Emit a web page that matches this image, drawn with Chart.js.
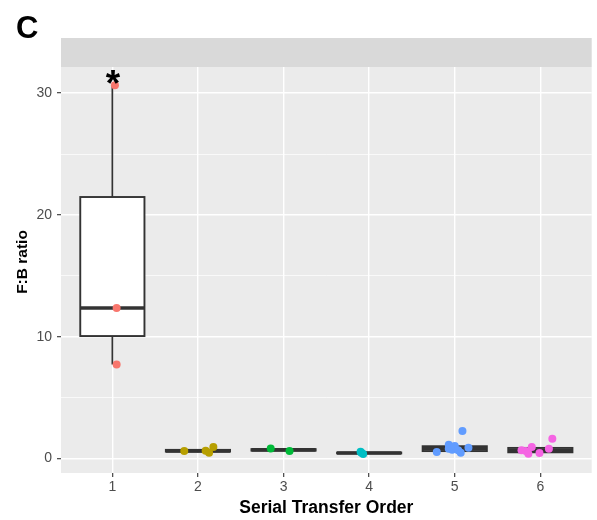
<!DOCTYPE html>
<html>
<head>
<meta charset="utf-8">
<script src="https://cdn.jsdelivr.net/npm/chart.js@4"></script>
<style>
  html, body { margin: 0; padding: 0; background: #fff; }
  #wrap { width: 597px; height: 520px; }
</style>
</head>
<body>
<div id="wrap"><canvas id="fbChart" width="597" height="520"></canvas></div>
<script>
const transferOrder = [1, 2, 3, 4, 5, 6];
const groupColors = ["#F8766D", "#B79F00", "#00BA38", "#00BFC4", "#619CFF", "#F564E3"];

// boxplot summary per transfer order
const boxLower = [7.72, 0.5, 0.62, 0.4, 0.55, 0.46];
const boxQ1 = [10.05, 0.56, 0.64, 0.41, 0.6, 0.5];
const boxMedian = [12.35, 0.62, 0.7, 0.44, 0.8, 0.66];
const boxQ3 = [21.47, 0.7, 0.76, 0.48, 1.0, 0.86];
const boxUpper = [30.65, 0.72, 0.78, 0.5, 1.05, 0.9];

// jittered observations
const jitterX = [
	[1.03, 1.05, 1.05],
	[1.84, 2.09, 2.13, 2.18],
	[2.85, 3.07],
	[3.9, 3.91, 3.93],
	[4.79, 4.93, 4.93, 4.97, 5.0, 5.04, 5.07, 5.09, 5.16],
	[5.78, 5.83, 5.86, 5.9, 5.99, 6.1, 6.14],
];
const fbRatio = [
	[30.65, 12.35, 7.72],
	[0.6, 0.63, 0.47, 0.93],
	[0.82, 0.6],
	[0.55, 0.47, 0.37],
	[0.52, 1.13, 0.8, 0.72, 1.01, 0.66, 0.47, 2.24, 0.88],
	[0.66, 0.6, 0.38, 0.93, 0.44, 0.8, 1.62],
];

const yTicks = [0, 5, 10, 15, 20, 25, 30];
const sigGroup = 1;
const boxWidth = 0.75;
const fontFamily = "'Liberation Sans', Arial, sans-serif";

const panelPlugin = {
	id: "panel",
	beforeDraw(chart) {
		const { ctx, chartArea: a } = chart;
		ctx.save();
		ctx.fillStyle = "#EBEBEB";
		ctx.fillRect(a.left, a.top, a.right - a.left, a.bottom - a.top);
		ctx.fillStyle = "#D9D9D9";
		ctx.fillRect(a.left, 38, a.right - a.left, a.top - 38);

		ctx.fillStyle = "#000";
		ctx.font = "bold 31px " + fontFamily;
		ctx.textBaseline = "alphabetic";
		ctx.fillText("C", 16, 38);

		ctx.translate(22.5, 262);
		ctx.rotate(-Math.PI / 2);
		ctx.font = "bold 15.5px " + fontFamily;
		ctx.textAlign = "center";
		ctx.textBaseline = "middle";
		ctx.fillText("F:B ratio", 0, 0);
		ctx.restore();
	},
	beforeDatasetsDraw(chart) {
		const { ctx } = chart;
		const xs = chart.scales.x;
		const ys = chart.scales.y;
		ctx.save();
		ctx.strokeStyle = "#333333";
		transferOrder.forEach((g, i) => {
			const cx = xs.getPixelForValue(g);
			const hw = xs.getPixelForValue(g + boxWidth / 2) - cx;
			const yLo = ys.getPixelForValue(boxLower[i]);
			const yQ1 = ys.getPixelForValue(boxQ1[i]);
			const yMed = ys.getPixelForValue(boxMedian[i]);
			const yQ3 = ys.getPixelForValue(boxQ3[i]);
			const yHi = ys.getPixelForValue(boxUpper[i]);

			ctx.lineWidth = 1.7;
			ctx.beginPath();
			ctx.moveTo(cx, yQ3);
			ctx.lineTo(cx, yHi);
			ctx.moveTo(cx, yQ1);
			ctx.lineTo(cx, yLo);
			ctx.stroke();

			ctx.fillStyle = "#fff";
			ctx.fillRect(cx - hw, yQ3, hw * 2, yQ1 - yQ3);
			ctx.lineWidth = 1.9;
			ctx.strokeRect(cx - hw, yQ3, hw * 2, yQ1 - yQ3);

			ctx.lineWidth = 3.6;
			ctx.beginPath();
			ctx.moveTo(cx - hw, yMed);
			ctx.lineTo(cx + hw, yMed);
			ctx.stroke();
		});
		ctx.restore();
	},
	afterDatasetsDraw(chart) {
		const { ctx } = chart;
		const x = chart.scales.x.getPixelForValue(sigGroup);
		const y = chart.scales.y.getPixelForValue(boxUpper[0]);
		ctx.save();
		ctx.fillStyle = "#000";
		ctx.font = "bold 37px " + fontFamily;
		ctx.textAlign = "center";
		ctx.textBaseline = "alphabetic";
		ctx.fillText("*", x + 0.5, y + 11);
		ctx.restore();
	},
};

const ctx = document.getElementById("fbChart").getContext("2d");

new Chart(ctx, {
	type: "scatter",
	data: {
		datasets: transferOrder.map((g, i) => ({
			label: String(g),
			data: jitterX[i].map((x, j) => ({ x: x, y: fbRatio[i][j] })),
			backgroundColor: groupColors[i],
			borderWidth: 0,
			pointRadius: 4,
			pointHoverRadius: 4,
		})),
	},
	options: {
		responsive: false,
		animation: false,
		layout: {
			padding: { top: 67, right: 5.3, left: 0, bottom: 0 },
		},
		plugins: {
			legend: { display: false },
			tooltip: { enabled: false },
		},
		scales: {
			x: {
				type: "linear",
				min: 0.4,
				max: 6.6,
				afterBuildTicks: (scale) => {
					scale.ticks = transferOrder.map((v) => ({ value: v }));
				},
				afterFit: (scale) => {
					scale.height = 47;
				},
				border: { display: false },
				grid: {
					color: "#FFFFFF",
					lineWidth: 1.4,
					tickLength: 4,
					tickColor: "#333333",
					tickWidth: 1.1,
				},
				ticks: {
					color: "#4D4D4D",
					padding: 2,
					font: { family: fontFamily, size: 14 },
					callback: (v) => String(v),
				},
				title: {
					display: true,
					text: "Serial Transfer Order",
					color: "#000",
					padding: { top: 0, bottom: 1.5 },
					font: { family: fontFamily, size: 17.5, weight: "bold" },
				},
			},
			y: {
				type: "linear",
				min: -1.2,
				max: 32.15,
				afterBuildTicks: (scale) => {
					scale.ticks = yTicks.map((v) => ({ value: v }));
				},
				afterFit: (scale) => {
					scale.width = 61;
				},
				border: { display: false },
				grid: {
					color: "#FFFFFF",
					lineWidth: (c) => (c.tick && c.tick.value % 10 === 0 ? 1.4 : 0.7),
					tickLength: 4,
					tickColor: (c) => (c.tick && c.tick.value % 10 === 0 ? "#333333" : "rgba(0,0,0,0)"),
					tickWidth: 1.1,
				},
				ticks: {
					color: "#4D4D4D",
					padding: 5,
					font: { family: fontFamily, size: 14 },
					callback: (v) => (v % 10 === 0 ? String(v) : ""),
				},
			},
		},
	},
	plugins: [panelPlugin],
});
</script>
</body>
</html>
